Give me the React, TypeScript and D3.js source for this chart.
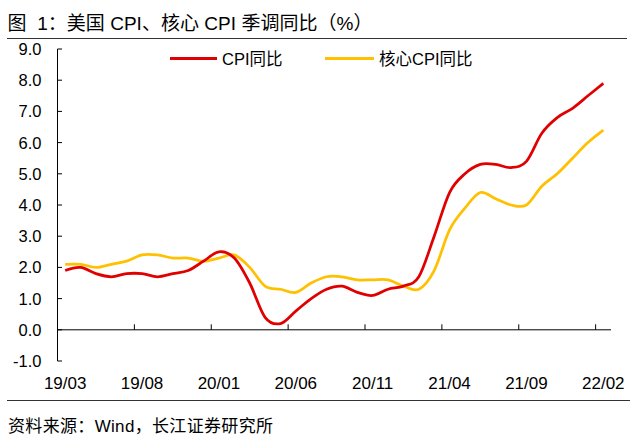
import React from "react";
import * as d3 from "d3";

const months = [
  "19/03","19/04","19/05","19/06","19/07","19/08","19/09","19/10","19/11","19/12",
  "20/01","20/02","20/03","20/04","20/05","20/06","20/07","20/08","20/09","20/10","20/11","20/12",
  "21/01","21/02","21/03","21/04","21/05","21/06","21/07","21/08","21/09","21/10","21/11","21/12",
  "22/01","22/02",
];
const cpi = [
  1.9, 2.0, 1.8, 1.7, 1.8, 1.8, 1.7, 1.8, 1.9, 2.2,
  2.5, 2.3, 1.5, 0.4, 0.2, 0.6, 1.0, 1.3, 1.4, 1.2, 1.1, 1.3,
  1.4, 1.7, 3.0, 4.4, 5.0, 5.3, 5.3, 5.2, 5.4, 6.3, 6.8, 7.1,
  7.5, 7.9,
];
const coreCpi = [
  2.1, 2.1, 2.0, 2.1, 2.2, 2.4, 2.4, 2.3, 2.3, 2.2,
  2.3, 2.4, 2.0, 1.4, 1.3, 1.2, 1.5, 1.7, 1.7, 1.6, 1.6, 1.6,
  1.4, 1.3, 1.9, 3.2, 3.9, 4.4, 4.2, 4.0, 4.0, 4.6, 5.0, 5.5,
  6.0, 6.4,
];
const yTicks = [-1, 0, 1, 2, 3, 4, 5, 6, 7, 8, 9];
const xLabelEvery = 5;
const seriesNames = ["CPI同比", "核心CPI同比"];
const title = "图  1：美国 CPI、核心 CPI 季调同比（%）";
const source = "资料来源：Wind，长江证券研究所";

const RED = "#E00000";
const GOLD = "#FFC000";
const FONT = "'Liberation Sans', 'Noto Sans CJK SC', sans-serif";

export default function App() {
  const left = 57.5, right = 611, top = 49, bottom = 361;
  const x = d3.scaleBand<string>().domain(months).range([left, right]).padding(0);
  const y = d3.scaleLinear().domain([-1, 9]).range([bottom, top]);
  const cx = (m: string) => (x(m) as number) + x.bandwidth() / 2;
  const line = d3
    .line<number>()
    .x((_, i) => cx(months[i]))
    .y((d) => y(d))
    .curve(d3.curveCardinal.tension(0));
  const y0 = y(0);

  return (
    <svg width={638} height={440} style={{ position: "absolute", left: 0, top: 0, background: "#fff" }} fontFamily={FONT}>
      <rect width={638} height={440} fill="#fff" />
      <text x={7.5} y={30} fontSize={19} fill="#000" style={{ whiteSpace: "pre" }} xmlSpace="preserve" textLength={365} lengthAdjust="spacing">{title}</text>
      <line x1={7} x2={627} y1={38.5} y2={38.5} stroke="#333" strokeWidth={1} />

      {/* legend */}
      <line x1={170} x2={217} y1={58.5} y2={58.5} stroke={RED} strokeWidth={3} />
      <text x={222} y={64.5} fontSize={16.5} fill="#000">{seriesNames[0]}</text>
      <line x1={325} x2={374} y1={58.5} y2={58.5} stroke={GOLD} strokeWidth={3} />
      <text x={379} y={64.5} fontSize={16.5} fill="#000">{seriesNames[1]}</text>

      {/* y axis */}
      <line x1={left} x2={left} y1={top} y2={bottom} stroke="#000" strokeWidth={1} />
      {yTicks.map((t) => (
        <g key={t}>
          <line x1={left} x2={left + 4.5} y1={y(t)} y2={y(t)} stroke="#000" strokeWidth={1} />
          <text x={41.5} y={y(t) + 6} fontSize={16.5} textAnchor="end" fill="#000">
            {t.toFixed(1)}
          </text>
        </g>
      ))}

      {/* x axis */}
      <line x1={left} x2={right} y1={y0} y2={y0} stroke="#000" strokeWidth={1} />
      {months.map((m, i) =>
        i % xLabelEvery === 0 ? (
          <g key={m}>
            {i > 0 && (
              <line x1={x(m) as number} x2={x(m) as number} y1={y0} y2={y0 - 5.5} stroke="#000" strokeWidth={1} />
            )}
            <text x={cx(m)} y={389} fontSize={17} textAnchor="middle" fill="#000">{m}</text>
          </g>
        ) : null
      )}

      <path d={line(coreCpi) || ""} fill="none" stroke={GOLD} strokeWidth={2.75} />
      <path d={line(cpi) || ""} fill="none" stroke={RED} strokeWidth={2.75} />

      <line x1={7} x2={630} y1={400.5} y2={400.5} stroke="#333" strokeWidth={1} />
      <text x={8} y={432} fontSize={17} fill="#000" textLength={265} lengthAdjust="spacing">{source}</text>
    </svg>
  );
}
